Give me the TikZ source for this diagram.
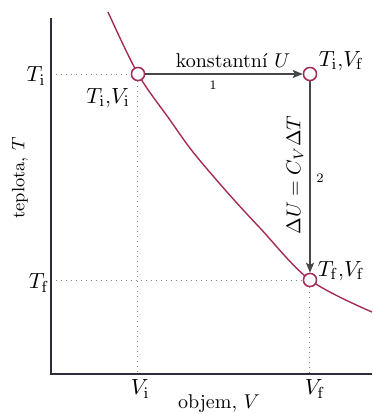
\documentclass[tikz,border=0pt]{standalone}
\usetikzlibrary{arrows.meta}
\definecolor{curvecol}{RGB}{165,45,85}
\definecolor{axiscol}{RGB}{45,45,60}
\definecolor{arrowcol}{RGB}{70,70,75}
\tikzset{
  stav/.style={circle,draw=curvecol,fill=white,line width=0.7pt,minimum size=6.5pt,inner sep=0pt},
  guide/.style={draw=gray,dotted,line width=0.5pt},
  proc/.style={draw=arrowcol,line width=0.7pt,-{Stealth[length=5pt,width=4pt,inset=1pt]}},
  lbl/.style={inner sep=0.75pt,font=\fontsize{11}{13}\selectfont},
  tiny/.style={inner sep=0.75pt,font=\fontsize{6.5}{8}\selectfont}
}
\begin{document}
\begin{tikzpicture}[x=0.5pt,y=0.5pt,yscale=-1,xscale=1]
\useasboundingbox (0,0) rectangle (372,414);
% axes
\coordinate (o) at (51,374);
\coordinate (ytop) at (51,18);
\coordinate (xend) at (372,374);
% states
\node[stav] (pi) at (138,74) {};
\node[stav] (pb) at (310,74) {};
\node[stav] (pf) at (310,280) {};
% Guide Lines
\draw[guide] (o |- pi) -- (pi);
\draw[guide] (pi) -- (pi |- o);
\draw[guide] (o |- pf) -- (pf);
\draw[guide] (pf) -- (pf |- o);
% Axes
\draw[axiscol,line width=0.9pt] (ytop) -- (o) -- (xend);
% Curve
\draw[curvecol,line width=0.7pt] plot[smooth,tension=0.55] coordinates {(108,12) (138,74) (170,120) (193,152) (227,192) (260,228) (310,280) (372,312)};
% redraw states above the curve
\node[stav] at (pi) {};
\node[stav] at (pb) {};
\node[stav] at (pf) {};
% Processes
\draw[proc] (pi) -- (pb);
\draw[proc] (pb) -- (pf);
% Text Node
\node[lbl,font=\fontsize{10}{12}\selectfont] (konst) at (233,61) {konstantní $U$};
\node[tiny] (one) at (213,85) {1};
\node[lbl] (lbi) at (108,98) {$T_{\mathrm{i}}$,$V_{\mathrm{i}}$};
\node[lbl,anchor=west] (lbb) at (317,61) {$T_{\mathrm{i}}$,$V_{\mathrm{f}}$};
\node[lbl,anchor=west] (lbf) at (316,271) {$T_{\mathrm{f}}$,$V_{\mathrm{f}}$};
\node[lbl,font=\fontsize{9.7}{12}\selectfont,rotate=90] (du) at (295,175) {$\Delta U=C_V\Delta T$};
\node[tiny] (two) at (320,178) {2};
% Axis labels
\node[lbl] (ti) at (36,76) {$T_{\mathrm{i}}$};
\node[lbl] (tf) at (39,283) {$T_{\mathrm{f}}$};
\node[lbl] (vi) at (140,389) {$V_{\mathrm{i}}$};
\node[lbl] (vf) at (315,389) {$V_{\mathrm{f}}$};
\node[lbl,font=\fontsize{10}{12}\selectfont] (xl) at (219,404) {objem, $V$};
\node[lbl,font=\fontsize{9}{11}\selectfont,rotate=90] (yl) at (20,178) {teplota, $T$};
\end{tikzpicture}
\end{document}
